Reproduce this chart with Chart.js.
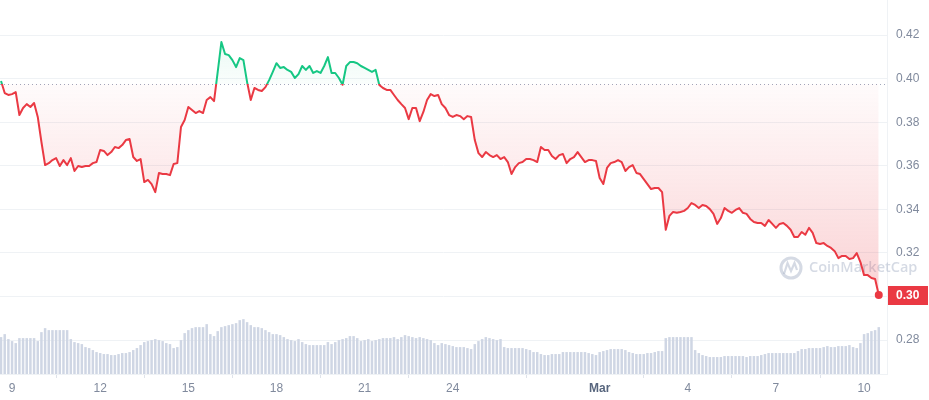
<!DOCTYPE html>
<html>
<head>
<meta charset="utf-8">
<script src="https://cdn.jsdelivr.net/npm/chart.js@4/dist/chart.umd.min.js"></script>
<style>
  html, body { margin: 0; padding: 0; background: #fff; }
  #wrap { width: 929px; height: 400px; }
</style>
</head>
<body>
<div id="wrap"><canvas id="priceChart"></canvas></div>
<script>
// x values are days counted from Feb 1 (Mar 1 = 29), one point every 3 hours
const startDay = 8.625;   // Feb 8, 15:00
const stepDays = 0.125;
const openPrice = 0.3975;

const prices = [
  0.3989, 0.3934, 0.3925, 0.3929, 0.3938, 0.3833, 0.3865, 0.3883, 0.3870, 0.3888,
  0.3824, 0.3709, 0.3603, 0.3612, 0.3626, 0.3635, 0.3599, 0.3626, 0.3603, 0.3635,
  0.3576, 0.3599, 0.3594, 0.3599, 0.3599, 0.3612, 0.3617, 0.3672, 0.3668, 0.3649,
  0.3663, 0.3686, 0.3681, 0.3695, 0.3718, 0.3723, 0.3640, 0.3622, 0.3631, 0.3525,
  0.3535, 0.3516, 0.3479, 0.3567, 0.3562, 0.3562, 0.3557, 0.3608, 0.3612, 0.3778,
  0.3810, 0.3870, 0.3856, 0.3842, 0.3851, 0.3842, 0.3902, 0.3915, 0.3897, 0.4031,
  0.4168, 0.4113, 0.4108, 0.4085, 0.4053, 0.4094, 0.4085, 0.3984, 0.3902, 0.3957,
  0.3948, 0.3943, 0.3961, 0.3993, 0.4031, 0.4071, 0.4049, 0.4053, 0.4040, 0.4031,
  0.4003, 0.4021, 0.4058, 0.4040, 0.4058, 0.4026, 0.4035, 0.4026, 0.4058, 0.4099,
  0.4026, 0.4026, 0.4003, 0.3972, 0.4058, 0.4076, 0.4076, 0.4071, 0.4058, 0.4049,
  0.4040, 0.4031, 0.4040, 0.3971, 0.3957, 0.3948, 0.3948, 0.3925, 0.3902, 0.3883,
  0.3865, 0.3814, 0.3865, 0.3865, 0.3805, 0.3847, 0.3902, 0.3929, 0.3920, 0.3925,
  0.3883, 0.3865, 0.3833, 0.3824, 0.3833, 0.3828, 0.3814, 0.3828, 0.3824, 0.3718,
  0.3658, 0.3640, 0.3663, 0.3649, 0.3640, 0.3649, 0.3631, 0.3640, 0.3617, 0.3562,
  0.3594, 0.3612, 0.3617, 0.3631, 0.3631, 0.3626, 0.3617, 0.3686, 0.3672, 0.3672,
  0.3645, 0.3631, 0.3649, 0.3654, 0.3612, 0.3631, 0.3640, 0.3663, 0.3640, 0.3617,
  0.3626, 0.3626, 0.3622, 0.3544, 0.3516, 0.3590, 0.3612, 0.3617, 0.3626, 0.3617,
  0.3576, 0.3594, 0.3603, 0.3567, 0.3562, 0.3539, 0.3516, 0.3493, 0.3498, 0.3498,
  0.3479, 0.3306, 0.3370, 0.3388, 0.3384, 0.3388, 0.3393, 0.3406, 0.3429, 0.3420,
  0.3406, 0.3420, 0.3415, 0.3401, 0.3379, 0.3333, 0.3360, 0.3406, 0.3393, 0.3384,
  0.3397, 0.3406, 0.3384, 0.3379, 0.3356, 0.3342, 0.3337, 0.3337, 0.3324, 0.3351,
  0.3333, 0.3315, 0.3333, 0.3337, 0.3324, 0.3306, 0.3273, 0.3273, 0.3296, 0.3283,
  0.3315, 0.3292, 0.3245, 0.3241, 0.3245, 0.3232, 0.3223, 0.3208, 0.3176, 0.3186,
  0.3186, 0.3172, 0.3176, 0.3199, 0.3158, 0.3098, 0.3098, 0.3085, 0.3080, 0.3007
];

// volume, millions USD
const volumes = [
  148, 160, 140, 132, 124, 144, 144, 144, 144, 144,
  132, 168, 184, 176, 176, 176, 176, 176, 176, 140,
  128, 124, 120, 108, 104, 96, 88, 84, 80, 80,
  76, 76, 80, 84, 84, 88, 96, 104, 116, 128,
  132, 136, 140, 136, 132, 124, 120, 104, 108, 136,
  164, 176, 184, 188, 188, 188, 200, 160, 152, 172,
  188, 192, 196, 200, 204, 216, 220, 208, 196, 188,
  188, 184, 176, 168, 160, 160, 156, 148, 140, 136,
  132, 140, 128, 120, 116, 116, 116, 116, 116, 128,
  120, 128, 136, 140, 144, 152, 152, 144, 132, 136,
  140, 132, 136, 140, 144, 144, 144, 148, 140, 148,
  156, 152, 148, 144, 148, 144, 140, 136, 124, 116,
  124, 120, 116, 112, 108, 108, 108, 104, 100, 120,
  132, 140, 148, 144, 140, 136, 140, 108, 104, 104,
  104, 104, 104, 100, 96, 88, 88, 80, 76, 76,
  80, 80, 80, 88, 88, 88, 88, 88, 88, 88,
  84, 80, 76, 88, 92, 96, 100, 100, 100, 100,
  96, 88, 84, 80, 80, 80, 84, 84, 88, 92,
  92, 144, 148, 148, 148, 148, 148, 148, 148, 96,
  84, 76, 72, 68, 68, 68, 68, 72, 72, 72,
  72, 72, 72, 68, 72, 72, 72, 76, 80, 84,
  84, 84, 84, 84, 84, 84, 84, 92, 100, 100,
  104, 104, 104, 104, 108, 112, 108, 108, 112, 112,
  112, 116, 108, 104, 124, 160, 164, 172, 176, 188
];

const tickDays = [9, 12, 15, 18, 21, 24, 29, 32, 35, 38];
const tickLabels = ['9', '12', '15', '18', '21', '24', 'Mar', '4', '7', '10'];
const priceTicks = [0.28, 0.30, 0.32, 0.34, 0.36, 0.38, 0.40, 0.42];

const RED = '#ea3943';
const GREEN = '#16c784';
const FONT = '"Liberation Sans", Arial, sans-serif';

const times = prices.map((_, i) => startDay + i * stepDays);

const overlay = {
  id: 'overlay',
  beforeDatasetsDraw(chart) {
    const { ctx, chartArea: a, scales } = chart;
    ctx.save();
    // watermark
    ctx.strokeStyle = 'rgba(162,173,196,0.45)';
    ctx.fillStyle = 'rgba(162,173,196,0.45)';
    ctx.lineWidth = 3;
    ctx.beginPath();
    ctx.arc(791, 268, 10, 0, Math.PI * 2);
    ctx.stroke();
    ctx.lineWidth = 2.2;
    ctx.beginPath();
    ctx.moveTo(784, 274);
    ctx.lineTo(787.5, 263);
    ctx.lineTo(791, 271);
    ctx.lineTo(794.5, 263);
    ctx.lineTo(797, 270);
    ctx.stroke();
    ctx.font = '600 14.5px "Open Sans", ' + FONT;
    ctx.textBaseline = 'middle';
    ctx.fillText('CoinMarketCap', 809, 268);
    // dotted open price line
    const yb = Math.round(scales.y.getPixelForValue(openPrice)) + 0.5;
    ctx.strokeStyle = '#a1a7bb';
    ctx.lineWidth = 1;
    ctx.setLineDash([1, 3]);
    ctx.beginPath();
    ctx.moveTo(a.left, yb);
    ctx.lineTo(a.right, yb);
    ctx.stroke();
    ctx.restore();
  },
  afterDraw(chart) {
    const { ctx, chartArea: a, scales } = chart;
    const last = prices[prices.length - 1];
    const yp = scales.y.getPixelForValue(last);
    ctx.save();
    ctx.fillStyle = RED;
    ctx.fillRect(a.right + 1, Math.round(yp) - 9, chart.width - a.right - 2, 19);
    ctx.fillStyle = '#fff';
    ctx.font = 'bold 12px ' + FONT;
    ctx.textBaseline = 'middle';
    ctx.fillText(last.toFixed(2), a.right + 9, Math.round(yp) + 1);
    ctx.restore();
  }
};

const chart = new Chart(document.getElementById('priceChart'), {
  type: 'line',
  data: {
    datasets: [
      {
        type: 'line',
        data: prices.map((p, i) => ({ x: times[i], y: p })),
        yAxisID: 'y',
        borderColor: RED,
        borderWidth: 2,
        borderJoinStyle: 'round',
        tension: 0,
        fill: false,
        pointRadius: c => (c.dataIndex === prices.length - 1 ? 4 : 0),
        pointBackgroundColor: RED,
        pointBorderWidth: 0,
        pointHoverRadius: 0,
        order: 1
      },
      {
        type: 'bar',
        data: volumes.map((v, i) => ({ x: times[i], y: v })),
        yAxisID: 'yVol',
        backgroundColor: '#cfd6e4',
        barPercentage: 0.68,
        categoryPercentage: 1,
        order: 2
      }
    ]
  },
  options: {
    responsive: true,
    maintainAspectRatio: false,
    animation: false,
    layout: { padding: 0, autoPadding: false },
    plugins: { legend: { display: false }, tooltip: { enabled: false } },
    scales: {
      x: {
        type: 'linear',
        min: 8.59,
        max: 38.78,
        offset: false,
        afterBuildTicks: s => { s.ticks = tickDays.map(v => ({ value: v })); },
        afterFit: s => { s.height = 26; s.paddingLeft = 0; s.paddingRight = 0; },
        ticks: {
          autoSkip: false,
          maxRotation: 0,
          padding: 3,
          callback: (v, i) => tickLabels[i],
          color: c => (tickLabels[c.index] === 'Mar' ? '#58667e' : '#808a9d'),
          font: c => ({ family: FONT, size: 12, weight: tickLabels[c.index] === 'Mar' ? 'bold' : 'normal' })
        },
        grid: { drawOnChartArea: false, drawTicks: true, tickLength: 4, color: '#dfe3ea' },
        border: { color: '#eff2f5' }
      },
      y: {
        position: 'right',
        min: 0.2644,
        max: 0.4361,
        afterBuildTicks: s => { s.ticks = priceTicks.map(v => ({ value: v })); },
        afterFit: s => { s.width = 42; s.paddingTop = 0; s.paddingBottom = 0; },
        ticks: {
          padding: 9,
          color: '#808a9d',
          font: { family: FONT, size: 12 },
          callback: v => v.toFixed(2)
        },
        grid: { color: '#eff2f5', drawTicks: false },
        border: { color: '#eff2f5' }
      },
      yVol: { display: false, min: 0, max: 1500 }
    }
  },
  plugins: [overlay]
});

// colour the line and the area by the open price, now that the layout is known
const area = chart.chartArea;
const yb = chart.scales.y.getPixelForValue(openPrice);
const stop = (yb - area.top) / (area.bottom - area.top);
const g = chart.ctx;
const lineGrad = g.createLinearGradient(0, area.top, 0, area.bottom);
lineGrad.addColorStop(0, GREEN);
lineGrad.addColorStop(stop, GREEN);
lineGrad.addColorStop(stop, RED);
lineGrad.addColorStop(1, RED);
const upFill = g.createLinearGradient(0, area.top, 0, yb);
upFill.addColorStop(0, 'rgba(22,199,132,0.16)');
upFill.addColorStop(1, 'rgba(22,199,132,0.02)');
const downFill = g.createLinearGradient(0, yb, 0, area.bottom);
downFill.addColorStop(0, 'rgba(234,57,67,0.02)');
downFill.addColorStop(1, 'rgba(234,57,67,0.30)');
const ds = chart.data.datasets[0];
ds.borderColor = lineGrad;
ds.fill = { target: { value: openPrice }, above: upFill, below: downFill };
chart.update('none');
</script>
</body>
</html>
